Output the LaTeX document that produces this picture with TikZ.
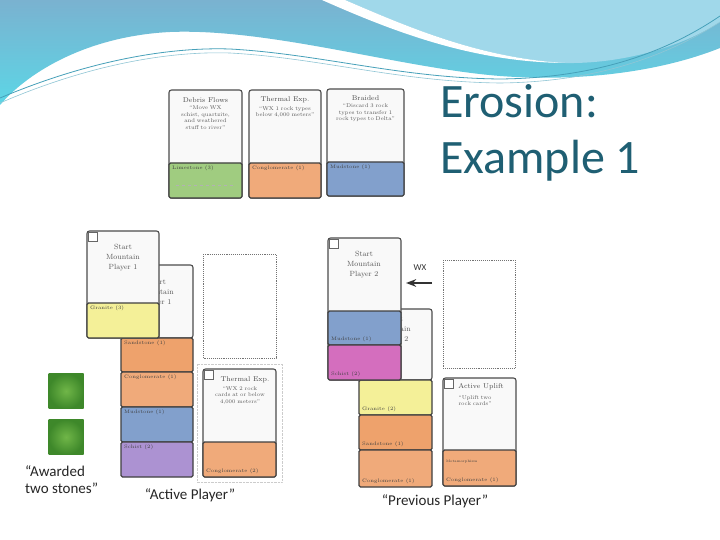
\documentclass[tikz,border=0pt]{standalone}
\usepackage{fontspec}
\newfontfamily\slidefont{Carlito}
\usetikzlibrary{arrows.meta,positioning}

\definecolor{headblue}{RGB}{122,178,208}
\definecolor{headcyan}{RGB}{92,214,230}
\definecolor{headlight}{RGB}{160,216,234}
\definecolor{headline}{RGB}{70,160,185}
\definecolor{titleteal}{RGB}{31,95,115}
\definecolor{limegreen}{RGB}{160,204,128}
\definecolor{congorange}{RGB}{240,170,122}
\definecolor{sandorange}{RGB}{238,162,108}
\definecolor{mudblue}{RGB}{130,160,204}
\definecolor{granyellow}{RGB}{244,240,152}
\definecolor{schistpurple}{RGB}{172,146,210}
\definecolor{schistpink}{RGB}{212,110,190}
\definecolor{stonegreen}{RGB}{112,182,72}
\definecolor{stonedark}{RGB}{62,136,42}

\newcommand\cardfont{\fontsize{5.5}{6.5}\selectfont\hyphenpenalty=10000\relax}

\begin{document}
\begin{tikzpicture}[x=1pt, y=-1pt, >=Stealth,
    cardbox/.style={draw=black!70, line width=1.1pt, rounded corners=2.5pt, fill=gray!5},
    band/.style={draw=black!75, line width=1.1pt, rounded corners=1.5pt},
    emptycard/.style={draw=black!55, densely dotted, line width=0.9pt},
    tagbox/.style={draw=black!60, line width=0.5pt, fill=white},
    cardtitle/.style={font=\fontsize{7}{8}\selectfont, text=black!70, inner sep=1pt},
    cardtext/.style={font=\cardfont, text=black!65, align=center, text width=64pt, inner sep=1pt},
    starttext/.style={font=\fontsize{7.5}{10}\selectfont, text=black!65, align=center, inner sep=0pt},
    bandtext/.style={font=\fontsize{5}{6}\selectfont, text=black!75, inner sep=1pt},
    caption/.style={font=\slidefont\fontsize{15}{17}\selectfont, text=black!85, inner sep=0pt},
    stone/.style={minimum size=35pt, inner sep=0pt, inner color=stonegreen, outer color=stonedark}]

    \useasboundingbox (0,0) rectangle (720,540);
    \fill[white] (0,0) rectangle (720,540);

    % Header waves
    \shade[top color=headblue, bottom color=headcyan]
        (0,0) -- (720,0) -- (720,48) .. controls (660,72) and (580,82) .. (500,76)
        .. controls (400,68) and (270,28) .. (170,32) .. controls (90,36) and (30,70) .. (0,105) -- cycle;
    \fill[headlight] (345,0) -- (720,0) -- (720,22) .. controls (680,48) and (620,64) .. (565,63)
        .. controls (480,58) and (410,28) .. (345,0) -- cycle;
    \fill[white] (322,0) -- (345,0) .. controls (410,28) and (480,58) .. (565,63)
        .. controls (470,62) and (390,30) .. (322,0) -- cycle;
    \draw[headline, line width=0.8pt] (0,98) .. controls (90,60) and (170,47) .. (230,49)
        .. controls (320,54) and (400,78) .. (500,79) .. controls (600,78) and (670,50) .. (720,16);
    \draw[headline!60, line width=0.6pt] (0,103) .. controls (90,64) and (170,51) .. (230,53)
        .. controls (320,58) and (400,82) .. (500,83) .. controls (600,82) and (670,54) .. (720,22);

    % Title
    \node[font=\slidefont\fontsize{48}{56}\selectfont, text=titleteal, align=left, anchor=north west, inner sep=0pt]
        (title) at (440,84) {Erosion:\\Example 1};

    % Top row of cards
    \draw[cardbox] (169,90) rectangle (242,198);
    \draw[band, fill=limegreen] (169,163) rectangle (242,198);
    \draw[black!30, dashed] (176,185) -- (236,185);
    \node[cardtitle] (debris) at (205.5,100) {Debris Flows};
    \node[cardtext, below=1pt of debris] (debristxt) {“Move WX schist, quartzite, and weathered stuff to river”};
    \node[bandtext, anchor=north west] (debrisband) at (171,165) {Limestone (3)};

    \draw[cardbox] (249,90) rectangle (321,198);
    \draw[band, fill=congorange] (249,163) rectangle (321,198);
    \node[cardtitle] (thermtop) at (285,100) {Thermal Exp.};
    \node[cardtext, below=1pt of thermtop] (thermtoptxt) {“WX 1 rock types below 4,000 meters”};
    \node[bandtext, anchor=north west] (thermtopband) at (251,165) {Conglomerate (1)};

    \draw[cardbox] (327,89) rectangle (404,196);
    \draw[band, fill=mudblue] (327,162) rectangle (404,196);
    \node[cardtitle] (braided) at (365.5,98) {Braided};
    \node[cardtext, below=1pt of braided] (braidedtxt) {“Discard 3 rock types to transfer 1 rock types to Delta”};
    \node[bandtext, anchor=north west] (braidedband) at (329,164) {Mudstone (1)};

    % Active player: card behind
    \draw[cardbox] (121,265) rectangle (193,338);
    \node[starttext] (startonebk) at (157,293) {Start\\Mountain\\Player 1};
    \draw[band, fill=sandorange] (121,338) rectangle (193,372);
    \draw[band, fill=congorange] (121,372) rectangle (193,407);
    \draw[band, fill=mudblue] (121,407) rectangle (193,442);
    \draw[band, fill=schistpurple] (121,442) rectangle (193,477);
    \node[bandtext, anchor=north west] (sandone) at (123,340) {Sandstone (1)};
    \node[bandtext, anchor=north west] (congone) at (123,374) {Conglomerate (1)};
    \node[bandtext, anchor=north west] (mudone) at (123,409) {Mudstone (1)};
    \node[bandtext, anchor=north west] (schistone) at (123,444) {Schist (2)};

    % Active player: front card
    \draw[cardbox] (87,231) rectangle (159,338);
    \draw[band, fill=granyellow] (87,303) rectangle (159,338);
    \draw[tagbox] (88,232) rectangle (97,241);
    \node[starttext] (startone) at (123,258) {Start\\Mountain\\Player 1};
    \node[bandtext, anchor=north west] (granone) at (89,305) {Granite (3)};

    % Active player: empty slot and played card
    \draw[emptycard] (203,254) rectangle (276,358);
    \draw[black!20, densely dotted] (197,364) rectangle (282,482);
    \draw[cardbox] (203,369) rectangle (276,477);
    \draw[band, fill=congorange] (203,442) rectangle (276,477);
    \draw[tagbox] (204,370) rectangle (213,379);
    \node[cardtitle] (thermlow) at (245,380) {Thermal Exp.};
    \node[cardtext, below=1pt of thermlow, xshift=-5pt] (thermlowtxt) {“WX 2 rock cards at or below 4,000 meters”};
    \node[bandtext, anchor=south west] (thermlowband) at (205,475) {Conglomerate (2)};

    % Awarded stones
    \node[stone] (stoneone) at (66,391) {};
    \node[stone] (stonetwo) at (66,437) {};
    \node[caption, align=left, anchor=north west] (awarded) at (25,465) {“Awarded\\two stones”};
    \node[caption] (active) at (190,495) {“Active Player”};

    % Previous player: card behind
    \draw[cardbox] (359,309) rectangle (432,380);
    \node[starttext] (starttwobk) at (394,330) {Start\\Mountain\\Player 2};
    \draw[band, fill=granyellow] (359,380) rectangle (432,415);
    \draw[band, fill=sandorange] (359,415) rectangle (432,450);
    \draw[band, fill=congorange] (359,450) rectangle (432,487);
    \node[bandtext, anchor=south west] (grantwo) at (361,413) {Granite (2)};
    \node[bandtext, anchor=south west] (sandtwo) at (361,448) {Sandstone (1)};
    \node[bandtext, anchor=south west] (congtwo) at (361,485) {Conglomerate (1)};

    % Previous player: front card
    \draw[cardbox] (328,238) rectangle (401,380);
    \draw[band, fill=mudblue] (328,311) rectangle (401,345);
    \draw[band, fill=schistpink] (328,345) rectangle (401,380);
    \draw[tagbox] (329,239) rectangle (338,248);
    \node[starttext] (starttwo) at (364,265) {Start\\Mountain\\Player 2};
    \node[bandtext, anchor=south west] (mudtwo) at (330,343) {Mudstone (1)};
    \node[bandtext, anchor=south west] (schisttwo) at (330,378) {Schist (2)};

    % WX arrow
    \coordinate (wxfrom) at (432,283);
    \coordinate (wxto) at (406,283);
    \draw[->, line width=1.6pt, black!80] (wxfrom) -- (wxto);
    \node[font=\slidefont\fontsize{9}{10}\selectfont, text=black!80] (wx) at (420,268) {WX};

    % Previous player: empty slot and played card
    \draw[emptycard] (443,260) rectangle (515,368);
    \draw[cardbox] (443,378) rectangle (516,486);
    \draw[band, fill=congorange] (443,450) rectangle (516,486);
    \draw[tagbox] (444,379) rectangle (453,388);
    \node[cardtitle] (uplift) at (481,387) {Active Uplift};
    \node[cardtext, below=3pt of uplift, xshift=-6pt, text width=50pt] (uplifttxt) {“Uplift two rock cards”};
    \node[bandtext, anchor=west, font=\fontsize{3.5}{4}\selectfont] (metamorph) at (445,462) {Metamorphism};
    \node[bandtext, anchor=south west] (conguplift) at (445,484) {Conglomerate (1)};

    \node[caption] (previous) at (435,501) {“Previous Player”};
\end{tikzpicture}
\end{document}
